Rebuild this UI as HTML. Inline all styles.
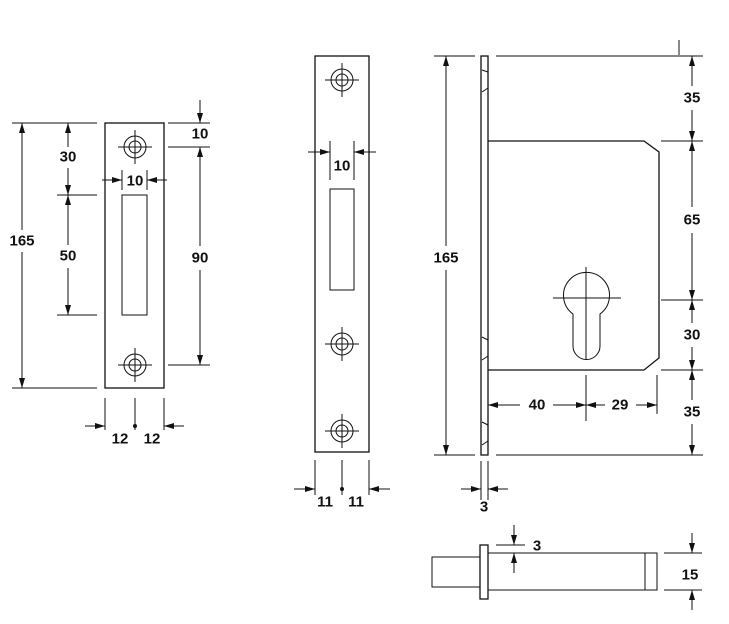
<!DOCTYPE html>
<html><head><style>body{margin:0;background:#fff}svg{display:block}text{font-family:"Liberation Sans",Arial,sans-serif;font-weight:bold;font-size:15px;text-anchor:middle;dominant-baseline:central;fill:#111}</style></head><body>
<svg width="729" height="624" viewBox="0 0 729 624" xmlns="http://www.w3.org/2000/svg">
<defs>
<marker id="a" viewBox="0 0 10 6" refX="10" refY="3" markerWidth="10" markerHeight="6" orient="auto-start-reverse" markerUnits="userSpaceOnUse"><path d="M0,0L10,3L0,6z" fill="#111"/></marker>
<g id="s"><circle r="11" fill="none" stroke="#111"/><circle r="6" fill="none" stroke="#111"/><path d="M-17,0H17M0,-17V17" stroke="#111"/></g>
</defs>
<g stroke="#111" stroke-width="1" fill="none">
<rect x="105" y="123" width="59" height="265" stroke-width="1.3"/>
<rect x="122" y="195" width="25" height="120"/>
<path d="M12,123H97M12,388H97M57,195H97M57,315H97M168,123H210M168,147H210M168,365H210M122,170V190M147,170V190M105,398V430M135,398V430M164,398V430"/>
<line x1="22" y1="230" x2="22" y2="123" marker-end="url(#a)"/><line x1="22" y1="252" x2="22" y2="388" marker-end="url(#a)"/>
<line x1="68" y1="147" x2="68" y2="123" marker-end="url(#a)"/><line x1="68" y1="168" x2="68" y2="195" marker-end="url(#a)"/>
<line x1="68" y1="245" x2="68" y2="195" marker-end="url(#a)"/><line x1="68" y1="268" x2="68" y2="315" marker-end="url(#a)"/>
<line x1="200" y1="100" x2="200" y2="123" marker-end="url(#a)"/>
<line x1="200" y1="246" x2="200" y2="147" marker-end="url(#a)"/><line x1="200" y1="270" x2="200" y2="365" marker-end="url(#a)"/>
<line x1="102" y1="180" x2="122" y2="180" marker-end="url(#a)"/><line x1="167" y1="180" x2="147" y2="180" marker-end="url(#a)"/>
<line x1="85" y1="426" x2="105" y2="426" marker-end="url(#a)"/><line x1="184" y1="426" x2="164" y2="426" marker-end="url(#a)"/>
<rect x="315" y="56" width="54" height="396" stroke-width="1.3"/>
<rect x="330" y="189" width="24" height="101"/>
<path d="M330,141V180M354,141V180M315,460V495M342,460V495M369,460V495"/>
<line x1="308" y1="152" x2="330" y2="152" marker-end="url(#a)"/><line x1="376" y1="152" x2="354" y2="152" marker-end="url(#a)"/>
<line x1="294" y1="489" x2="315" y2="489" marker-end="url(#a)"/><line x1="390" y1="489" x2="369" y2="489" marker-end="url(#a)"/>
<rect x="481" y="56" width="7" height="399" stroke-width="1.3"/>
<path d="M482,70L488,72M482,92L488,88M482,337L488,340M482,360L488,356M482,422L488,425M482,445L488,441"/>
<path d="M488,141H644L659,152V358L644,370H488" stroke-width="1.3"/>
<path d="M573,314A23,23 0 1 1 600,314V346A13.5,13.5 0 0 1 573,346Z"/>
<path d="M553,298H621M586,267V359M586,375V421M657,375V414"/>
<path d="M434,56H475M434,455H475M496,56H703M496,455H703M661,141H703M661,300H703M661,370H703M679,40V55M481,461V500M488,461V500"/>
<line x1="446" y1="246" x2="446" y2="56" marker-end="url(#a)"/><line x1="446" y1="270" x2="446" y2="455" marker-end="url(#a)"/>
<line x1="692" y1="86" x2="692" y2="56" marker-end="url(#a)"/><line x1="692" y1="110" x2="692" y2="141" marker-end="url(#a)"/>
<line x1="692" y1="207" x2="692" y2="141" marker-end="url(#a)"/><line x1="692" y1="233" x2="692" y2="300" marker-end="url(#a)"/>
<line x1="692" y1="323" x2="692" y2="300" marker-end="url(#a)"/><line x1="692" y1="347" x2="692" y2="370" marker-end="url(#a)"/>
<line x1="692" y1="400" x2="692" y2="370" marker-end="url(#a)"/><line x1="692" y1="424" x2="692" y2="455" marker-end="url(#a)"/>
<line x1="520" y1="405" x2="488" y2="405" marker-end="url(#a)"/><line x1="553" y1="405" x2="586" y2="405" marker-end="url(#a)"/>
<line x1="605" y1="405" x2="586" y2="405" marker-end="url(#a)"/><line x1="636" y1="405" x2="657" y2="405" marker-end="url(#a)"/>
<line x1="461" y1="489" x2="481" y2="489" marker-end="url(#a)"/><line x1="508" y1="489" x2="488" y2="489" marker-end="url(#a)"/>
<rect x="432" y="557" width="48" height="30"/>
<rect x="480" y="545" width="8" height="54" stroke-width="1.3"/>
<path d="M488,553H657V590H488M645,553V590"/>
<path d="M496,545H525M664,553H702M664,590H702"/>
<line x1="514" y1="525" x2="514" y2="545" marker-end="url(#a)"/><line x1="514" y1="573" x2="514" y2="553" marker-end="url(#a)"/>
<line x1="692" y1="533" x2="692" y2="553" marker-end="url(#a)"/><line x1="692" y1="610" x2="692" y2="590" marker-end="url(#a)"/>
</g>
<use href="#s" x="135" y="147"/><use href="#s" x="135" y="365"/>
<use href="#s" x="342" y="80"/><use href="#s" x="342" y="344"/><use href="#s" x="342" y="431"/>
<circle cx="135" cy="426" r="2" fill="#111"/><circle cx="342" cy="489" r="2" fill="#111"/>
<text x="22" y="241">165</text><text x="68" y="157">30</text><text x="68" y="256">50</text>
<text x="200" y="134">10</text><text x="200" y="258">90</text><text x="135" y="181">10</text>
<text x="120" y="439">12</text><text x="152" y="439">12</text>
<text x="342" y="166">10</text><text x="325" y="502">11</text><text x="356" y="502">11</text>
<text x="446" y="258">165</text><text x="692" y="98">35</text><text x="692" y="220">65</text>
<text x="692" y="335">30</text><text x="692" y="412">35</text>
<text x="537" y="405">40</text><text x="620" y="405">29</text><text x="484" y="507">3</text>
<text x="537" y="546">3</text><text x="690" y="575">15</text>
</svg>
</body></html>
